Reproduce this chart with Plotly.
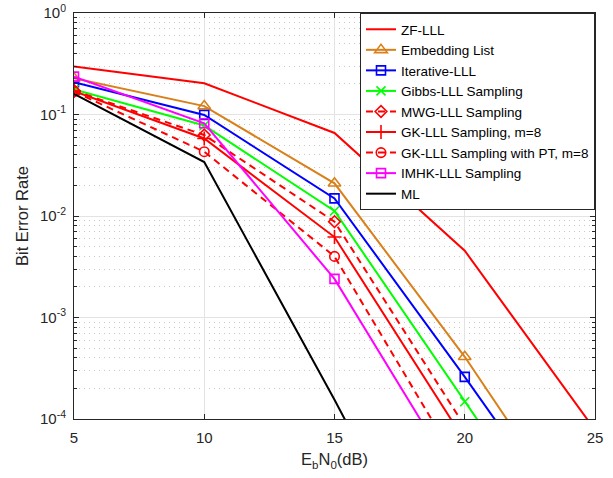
import plotly.graph_objects as go

# SNR points (dB)
snr_db = [5, 10, 15, 20, 25]

# Bit error rates per detector
ber_zf_lll = [0.298, 0.203, 0.0658, 0.00455, 7.8e-5]
ber_embedding = [0.228, 0.121, 0.021, 4.1e-4, 5.1e-6]
ber_iterative = [0.208, 0.099, 0.0149, 2.6e-4, 4.0e-6]
ber_gibbs = [0.176, 0.078, 0.0112, 1.48e-4, 2.0e-6]
ber_mwg = [0.172, 0.0628, 0.0088, 8.5e-5, 1.0e-6]
ber_gk = [0.170, 0.058, 0.0062, 5.9e-5, 6.0e-7]
ber_gk_pt = [0.168, 0.043, 0.0040, 2.8e-5, 3.0e-7]
ber_imhk = [0.236, 0.082, 0.0024, 1.78e-5, 1.5e-7]
ber_ml = [0.160, 0.034, 1.55e-4, 5.0e-7, 2.0e-9]

# y tick labels
y_tickvals = [1e-4, 1e-3, 1e-2, 1e-1, 1]
y_ticktext = ["10<sup>-4</sup>", "10<sup>-3</sup>", "10<sup>-2</sup>",
              "10<sup>-1</sup>", "10<sup>0</sup>"]
y_minor = [m * 10 ** e for e in range(-4, 0) for m in range(2, 10)]

DASH = "7px,5px"
# name, values, colour, dash, marker symbol, marker size
series = [
    ("ZF-LLL", ber_zf_lll, "#ff0000", "solid", None, 0),
    ("Embedding List", ber_embedding, "#d9801a", "solid", "triangle-up-open", 11),
    ("Iterative-LLL", ber_iterative, "#0000ff", "solid", "square-open", 9),
    ("Gibbs-LLL Sampling", ber_gibbs, "#00ff00", "solid", "x-thin-open", 9),
    ("MWG-LLL Sampling", ber_mwg, "#ff0000", DASH, "diamond-open", 9),
    ("GK-LLL Sampling, m=8", ber_gk, "#ff0000", "solid", "cross-thin-open", 10),
    ("GK-LLL Sampling with PT, m=8", ber_gk_pt, "#ff0000", DASH, "circle-open", 9.5),
    ("IMHK-LLL Sampling", ber_imhk, "#ff00ff", "solid", "square-open", 9),
    ("ML", ber_ml, "#000000", "solid", None, 0),
]

fig = go.Figure()
for name, ys, color, dash, symbol, msize in series:
    mode = "lines+markers" if symbol else "lines"
    marker = dict(symbol=symbol, size=msize, color=color,
                  line=dict(color=color, width=1.6)) if symbol else None
    fig.add_trace(go.Scatter(
        x=snr_db, y=ys, name=name, mode=mode,
        line=dict(color=color, width=2, dash=dash),
        marker=marker,
    ))

axis_color = "#262626"
fig.update_layout(
    width=613, height=478,
    margin=dict(l=74, r=18, t=13, b=59),
    paper_bgcolor="white", plot_bgcolor="white",
    font=dict(family="Liberation Sans, Arial, sans-serif", size=15, color=axis_color),
    showlegend=True,
    legend=dict(
        x=1, xanchor="right", y=1, yanchor="top",
        bgcolor="white", bordercolor=axis_color, borderwidth=1,
        font=dict(size=13.5, color="#000000"),
        tracegroupgap=0,
    ),
)

fig.update_xaxes(
    range=[5, 25], tickvals=[5, 10, 15, 20, 25],
    showline=True, linecolor=axis_color, linewidth=1, mirror="ticks",
    ticks="inside", ticklen=5, tickcolor=axis_color,
    showgrid=True, gridcolor="#e3e3e3", gridwidth=1,
    zeroline=False, automargin=False, ticklabelstandoff=5,
    title=dict(text="E<sub>b</sub>N<sub>0</sub>(dB)", font=dict(size=16.5), standoff=8),
)
fig.update_yaxes(
    type="log", range=[-4, 0],
    tickvals=y_tickvals, ticktext=y_ticktext,
    showline=True, linecolor=axis_color, linewidth=1, mirror="ticks",
    ticks="inside", ticklen=5, tickcolor=axis_color,
    showgrid=True, gridcolor="#e3e3e3", gridwidth=1,
    minor=dict(tickvals=y_minor, ticks="inside", ticklen=3, tickcolor=axis_color,
               showgrid=True, gridcolor="#c8c8c8", griddash="1px,4px", gridwidth=1),
    zeroline=False, automargin=False, ticklabelstandoff=4,
    title=dict(text="Bit Error Rate", font=dict(size=16.5), standoff=7),
)

fig.write_html("out.html")
